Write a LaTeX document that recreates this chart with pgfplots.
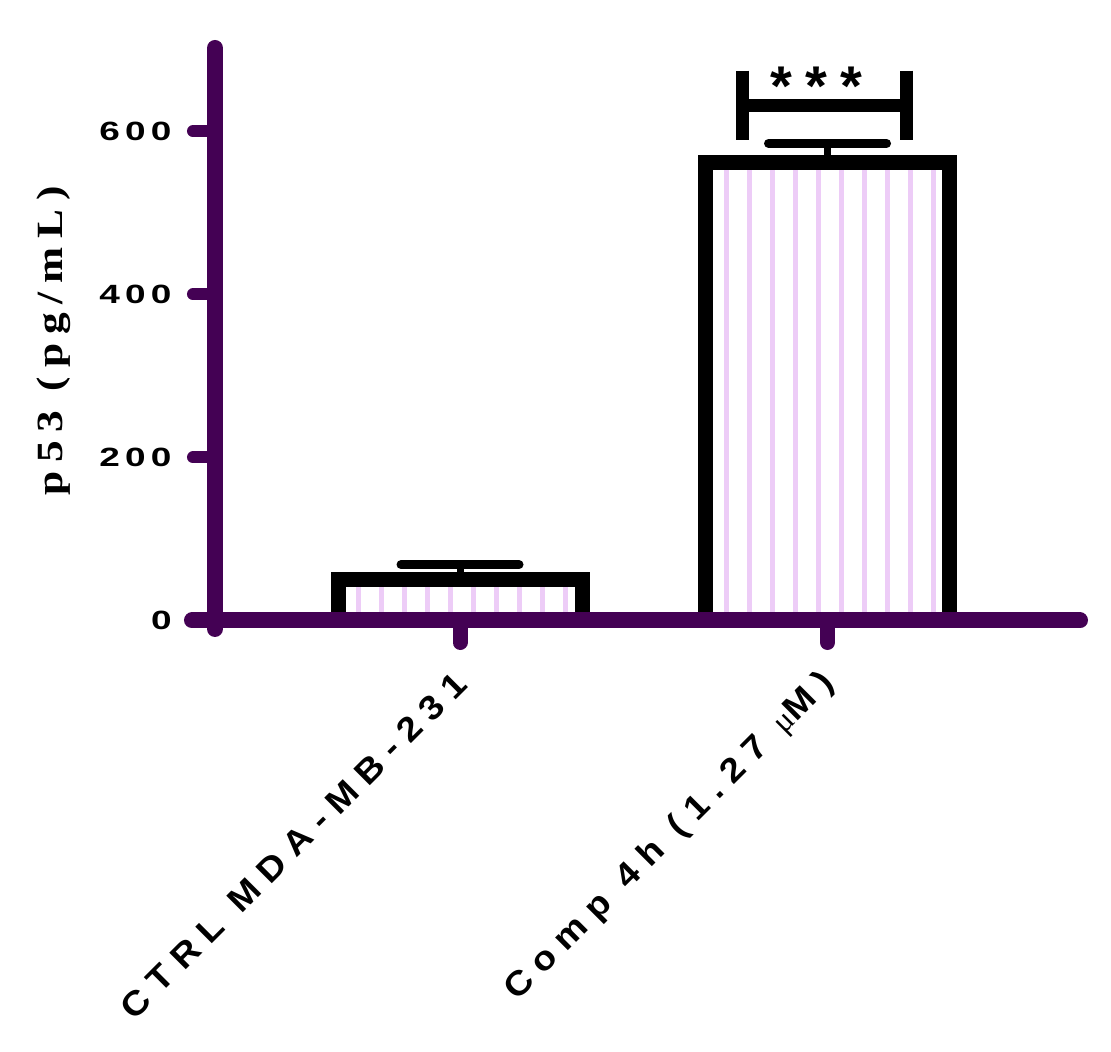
\documentclass[border=0pt]{standalone}
\usepackage{pgfplots}
\pgfplotsset{compat=1.18}
\usepackage{fontspec}
\usetikzlibrary{patterns}
\definecolor{axpurple}{HTML}{440154}
\definecolor{hatchc}{HTML}{EDCCF7}
\newfontfamily\tickfont{Liberation Sans Bold}[FakeStretch=1.4,LetterSpace=20]
\newfontfamily\xlabfont{Liberation Sans Bold}[FakeStretch=1.1,LetterSpace=30]
\newfontfamily\ylabfont{Liberation Serif Bold}[FakeStretch=1.17,LetterSpace=24]
\newfontfamily\starfont{Liberation Sans Bold}
\newfontfamily\mufont{Liberation Serif}
\pgfdeclarepatternformonly{vhatch}{\pgfqpoint{0pt}{-1pt}}{\pgfqpoint{11.5pt}{11pt}}{\pgfqpoint{11.5pt}{10pt}}{%
  \pgfsetlinewidth{2.5pt}%
  \pgfpathmoveto{\pgfqpoint{6.5pt}{-1pt}}%
  \pgfpathlineto{\pgfqpoint{6.5pt}{11pt}}%
  \pgfusepathqstroke}
\begin{document}
\begin{tikzpicture}
\begin{axis}[
  at={(0,0)}, anchor=south west, scale only axis,
  width=432.5pt, height=286.25pt,
  xmin=-0.6667, xmax=1.687, ymin=0, ymax=702,
  axis lines=left, axis line style={draw=none,-},
  clip=false,
  ybar, bar width=122pt,
  xtick={0,1},
  xticklabels={{CTRL MDA-MB-231},{Comp 4h (1.27 {\mufont\fontsize{16}{18}\selectfont μ}M)}},
  ytick={0,200,400,600},
  minor tick num=0,
  tick align=outside, major tick length=11pt,
  xtick style={line width=7.5pt, line cap=round, axpurple},
  ytick style={line width=6pt, line cap=round, axpurple},
  /pgf/number format/assume math mode=true,
  yticklabel style={font=\tickfont\fontsize{13.2}{15}\selectfont, inner sep=2pt, xshift=-8.5pt},
  xticklabel style={font=\xlabfont\fontsize{17}{19}\selectfont, rotate=45, anchor=east, inner sep=2pt, xshift=-10pt, yshift=-13pt},
  ylabel={p53 (pg/mL)},
  ylabel style={font=\ylabfont\fontsize{18.5}{20}\selectfont, at={(axis description cs:-0.186,0.488)}, anchor=center, rotate=0},
]
\addplot[draw=black, line width=7.5pt, pattern=vhatch, pattern color=hatchc,
  error bars/.cd, y dir=plus, y explicit,
  error bar style={line width=3.5pt, black},
  error mark options={rotate=90, mark size=29.5pt, line width=4.5pt, line cap=round, black}]
  coordinates {(0,50) +- (0,18.5) (1,561) +- (0,24)};
% axis lines
\draw[line width=8pt, line cap=round, axpurple] (axis cs:-0.7293,0) -- (axis cs:1.687,0);
\draw[line width=8pt, line cap=round, axpurple] (axis cs:-0.6667,-10.4) -- (axis cs:-0.6667,702);
% significance bracket
\draw[line width=6.5pt, black] (axis cs:0.7687,674.2) -- (axis cs:0.7687,589.6);
\draw[line width=6.5pt, black] (axis cs:1.215,674.2) -- (axis cs:1.215,589.6);
\draw[line width=6.5pt, black] (axis cs:0.7687,631.9) -- (axis cs:1.215,631.9);
\node[font=\starfont\fontsize{28}{30}\selectfont, anchor=base, inner sep=0pt] at (axis cs:0.971,631) {*\hspace{6.6pt}*\hspace{6.6pt}*};
\end{axis}
\pgfresetboundingbox
\path[use as bounding box] (-107.5pt,-215.75pt) rectangle (448pt,310.25pt);
\end{tikzpicture}
\end{document}
